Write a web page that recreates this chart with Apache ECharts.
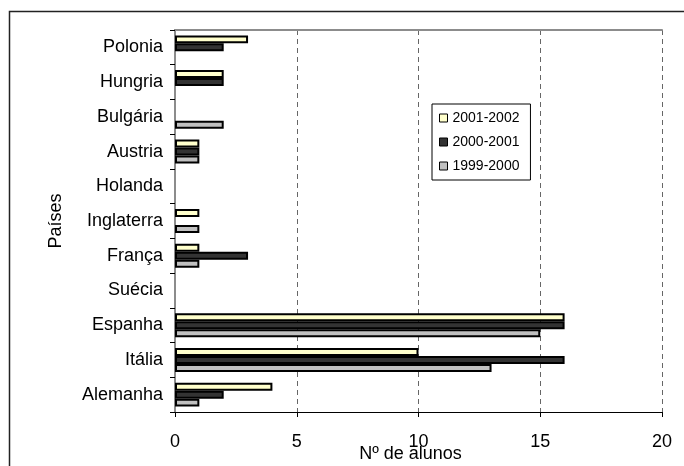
<!DOCTYPE html>
<html>
<head>
<meta charset="utf-8">
<script src="https://cdn.jsdelivr.net/npm/echarts@6/dist/echarts.min.js"></script>
<style>
  html, body { margin: 0; padding: 0; background: #fff; }
  #chart { width: 684px; height: 466px; }
</style>
</head>
<body>
<div id="chart"></div>
<script>
// Categories bottom to top
const categories = ['Alemanha', 'Itália', 'Espanha', 'Suécia', 'França', 'Inglaterra', 'Holanda', 'Austria', 'Bulgária', 'Hungria', 'Polonia'];
const seriesNames = ['2001-2002', '2000-2001', '1999-2000'];
const values2001 = [4, 10, 16, 0, 1, 1, 0, 1, 0, 2, 3];
const values2000 = [2, 16, 16, 0, 3, 0, 0, 1, 0, 2, 2];
const values1999 = [1, 13, 15, 0, 1, 1, 0, 1, 2, 0, 0];
const xTicks = [0, 5, 10, 15, 20];
const colors = ['#FFFFCC', '#333333', '#C0C0C0'];

const FONT = "'Liberation Sans', Arial, sans-serif";
const allValues = [values2001, values2000, values1999];

const chart = echarts.init(document.getElementById('chart'), null, { renderer: 'canvas' });

const series = seriesNames.map((name, i) => ({
  name: name,
  type: 'bar',
  xAxisIndex: 0,
  yAxisIndex: 0,
  data: allValues[i].map(v => (v === 0 ? '-' : v)),
  barGap: '0%',
  barCategoryGap: '31%',
  itemStyle: { color: colors[i], borderColor: '#000', borderWidth: 2 },
  emphasis: { disabled: true },
  animation: false
}));

chart.setOption({
  animation: false,
  backgroundColor: '#fff',
  textStyle: { fontFamily: FONT },
  grid: { left: 175, right: 22, top: 30, bottom: 54, containLabel: false, outerBoundsMode: 'none' },
  legend: {
    orient: 'vertical',
    left: 432,
    top: 104,
    data: seriesNames,
    icon: 'rect',
    itemWidth: 8,
    itemHeight: 8,
    itemGap: 10,
    padding: [7, 11, 7, 7],
    borderColor: '#000',
    borderWidth: 1,
    backgroundColor: '#fff',
    textStyle: { fontFamily: FONT, fontSize: 14, color: '#000', lineHeight: 14 },
    itemStyle: { borderColor: '#000', borderWidth: 1 }
  },
  xAxis: [
    {
      type: 'value',
      min: xTicks[0],
      max: xTicks[xTicks.length - 1],
      interval: xTicks[1] - xTicks[0],
      name: 'Nº de alunos',
      nameLocation: 'middle',
      nameGap: 33,
      nameMoveOverlap: false,
      nameTextStyle: { fontFamily: FONT, fontSize: 18, color: '#000', padding: [0, 16, 0, 0] },
      axisLine: { show: true, lineStyle: { color: '#000', width: 1 } },
      axisTick: { show: true, length: 5, lineStyle: { color: '#000' } },
      axisLabel: { fontFamily: FONT, fontSize: 18, color: '#000', margin: 21 },
      splitLine: { show: true, lineStyle: { color: '#666', type: [5, 4], width: 1 } }
    },
    {
      type: 'value',
      position: 'top',
      min: xTicks[0],
      max: xTicks[xTicks.length - 1],
      interval: xTicks[1] - xTicks[0],
      axisLine: { show: true, lineStyle: { color: '#8c8c8c', width: 2 } },
      axisTick: { show: false },
      axisLabel: { show: false },
      splitLine: { show: false }
    }
  ],
  yAxis: [
    {
      type: 'category',
      data: categories,
      name: 'Países',
      nameLocation: 'middle',
      nameGap: 110,
      nameRotate: 90,
      nameMoveOverlap: false,
      nameTextStyle: { fontFamily: FONT, fontSize: 18, color: '#000' },
      axisLine: { show: true, lineStyle: { color: '#000', width: 1.5 } },
      axisTick: { show: true, length: 5, lineStyle: { color: '#000' } },
      axisLabel: { fontFamily: FONT, fontSize: 18, color: '#000', margin: 12 },
      splitLine: { show: false }
    },
    {
      type: 'category',
      position: 'right',
      data: categories,
      axisLine: { show: true, lineStyle: { color: '#8c8c8c', width: 2 } },
      axisTick: { show: false },
      axisLabel: { show: false },
      splitLine: { show: false }
    }
  ],
  graphic: [
    {
      type: 'rect',
      silent: true,
      shape: { x: 9.5, y: 11.5, width: 800, height: 600 },
      style: { fill: 'none', stroke: '#222', lineWidth: 1.5 },
      z: 100
    }
  ],
  series: series
});
</script>
</body>
</html>
